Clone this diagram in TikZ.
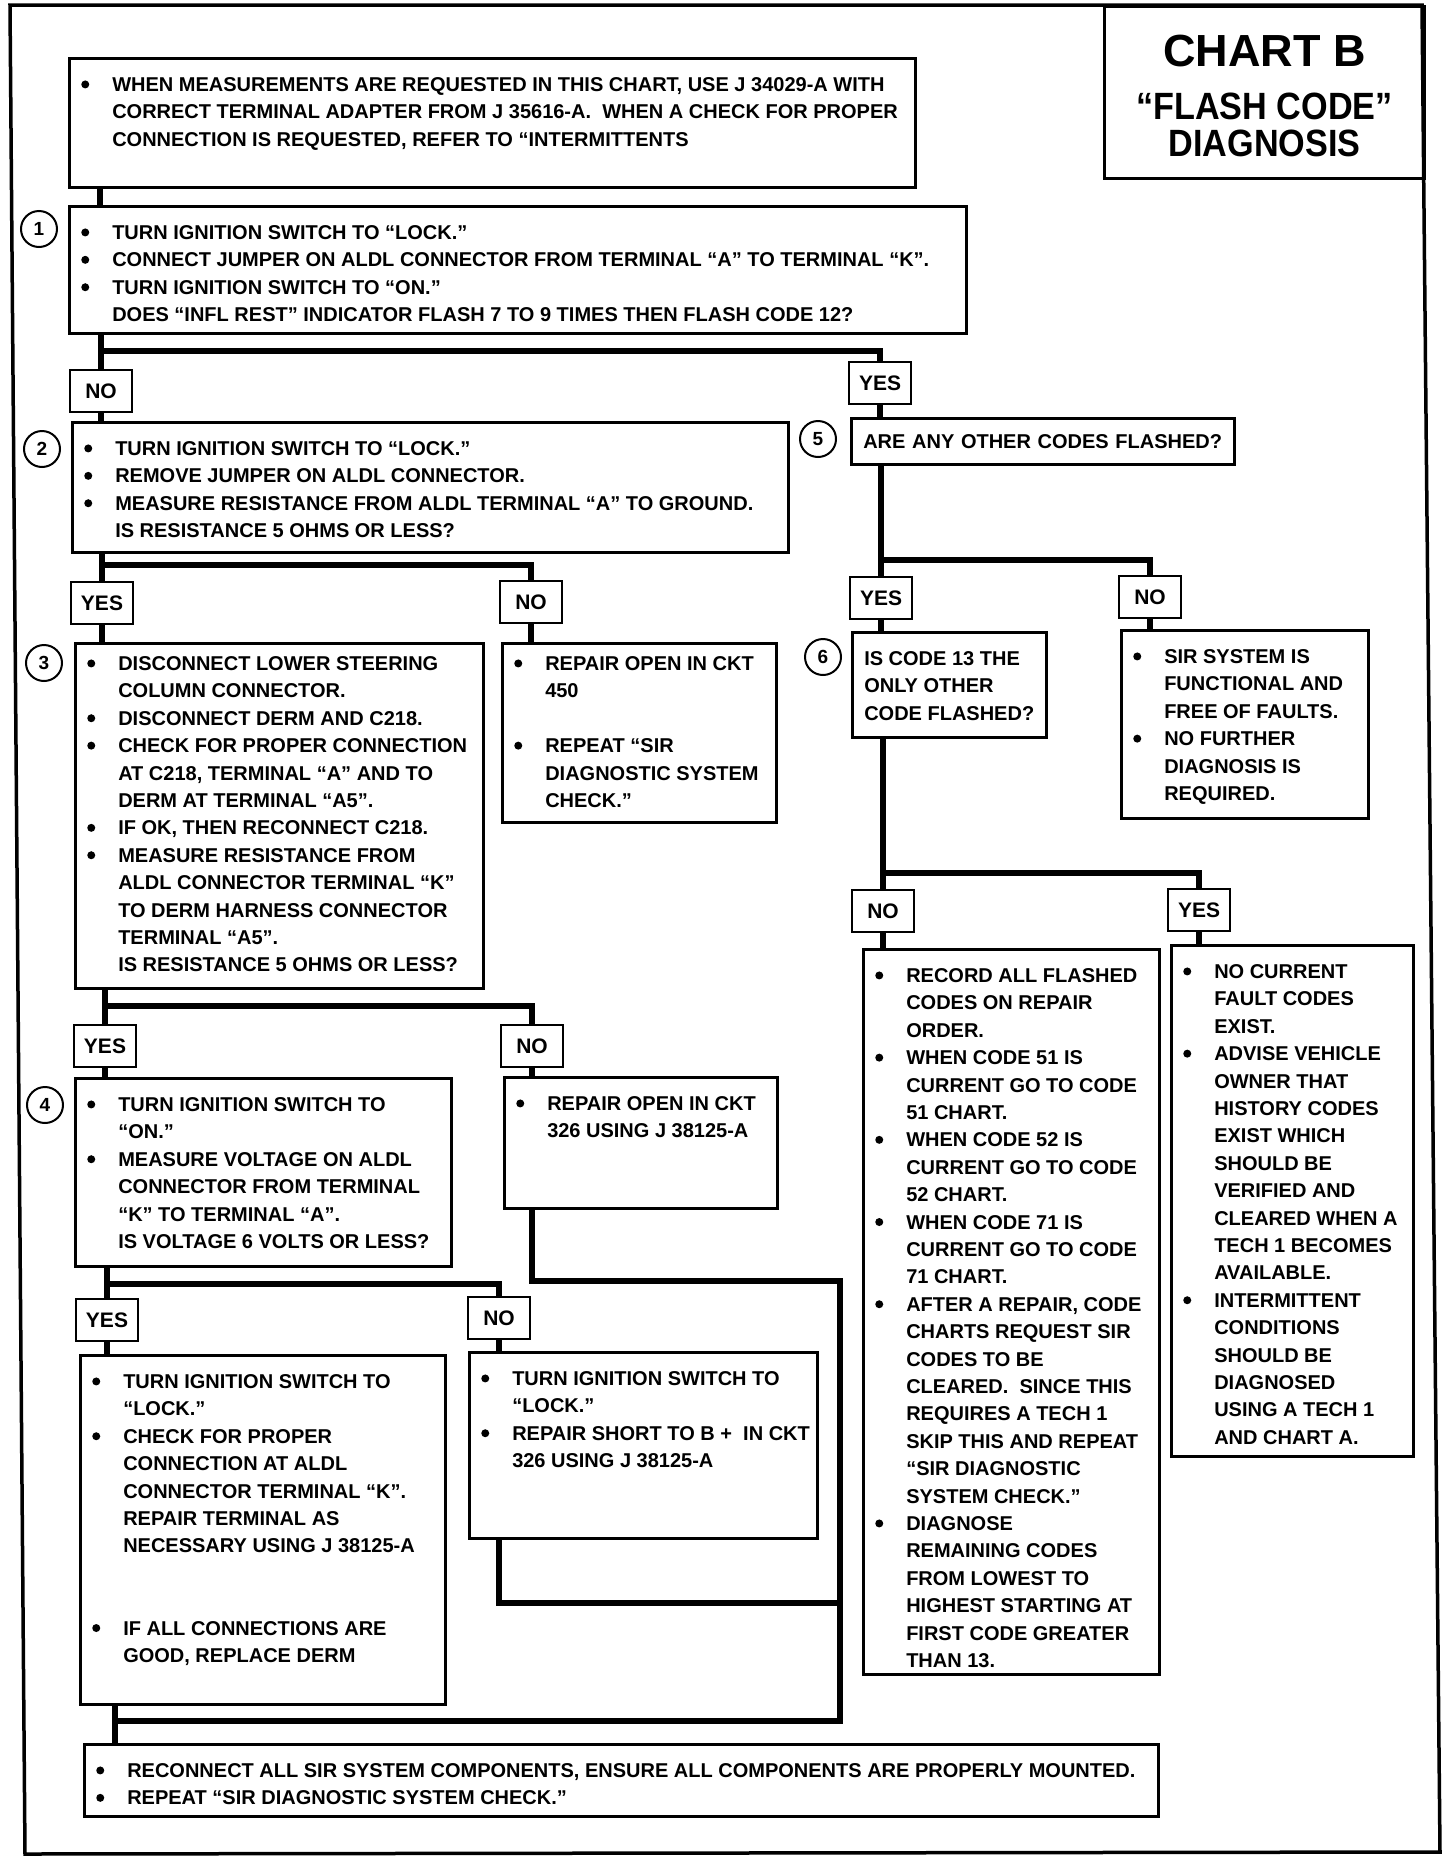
\documentclass[tikz,border=0pt]{standalone}
\usepackage{fontspec}
\setmainfont{Liberation Sans}
\newfontfamily\titlefont{Liberation Sans}[FakeStretch=0.9]
\usetikzlibrary{positioning,calc}
\newcommand{\bigdot}{\tikz[baseline=-7pt]\fill (0,0) circle (4pt);}
\newcommand{\bu}[1]{\mbox{\makebox[31pt][l]{\bigdot}#1}}
\newcommand{\ii}[1]{\mbox{\hspace*{31pt}#1}}
\newcommand{\tx}[1]{\mbox{#1}}
\newcommand{\boxtext}[4][0pt]{\parbox[c][\dimexpr#3pt-28pt\relax][t]{\dimexpr#2pt-24pt\relax}{\vspace*{#1}\strut#4}}
\tikzset{
	x=1pt, y=-1pt,
	box/.style={draw, line width=2.5pt, anchor=north west, inner xsep=12pt, inner ysep=14pt, font=\bfseries\fontsize{20}{27.4}\selectfont},
	lab/.style={draw, line width=2.5pt, minimum width=62pt, minimum height=42pt, inner sep=0pt, font=\bfseries\fontsize{21}{21}\selectfont},
	num/.style={circle, draw, line width=2pt, minimum size=36pt, inner sep=0pt, font=\bfseries\fontsize{19}{19}\selectfont},
	title/.style={draw, line width=3pt, anchor=north west, inner sep=0pt, font=\bfseries},
	conn/.style={line width=6pt, line join=miter},
	frame/.style={line width=3.5pt, line join=miter}
}

\begin{document}
\begin{tikzpicture}
    \useasboundingbox (0,0) rectangle (1456,1866);
    \draw[frame] (10,5) -- (1422,5) -- (1440,1852) -- (25,1854) -- cycle;

    \node[title] (title) at (1103,5) {\parbox[c][172pt][t]{320pt}{\centering
        \titlefont\fontsize{38}{37}\selectfont
        \rule{0pt}{60pt}{\normalfont\bfseries\fontsize{45}{37}\selectfont CHART B}\\[16pt]
        “FLASH CODE”\\
        DIAGNOSIS}};

    % left column
    \node[box] (b0) at (68,57) {\boxtext{846}{129}{%
        \bu{WHEN MEASUREMENTS ARE REQUESTED IN THIS CHART, USE J 34029-A WITH}\\
        \ii{CORRECT TERMINAL ADAPTER FROM J 35616-A.\ \ WHEN A CHECK FOR PROPER}\\
        \ii{CONNECTION IS REQUESTED, REFER TO “INTERMITTENTS}}};
    \node[box] (b1) at (68,205) {\boxtext{897}{127}{%
        \bu{TURN IGNITION SWITCH TO “LOCK.”}\\
        \bu{CONNECT JUMPER ON ALDL CONNECTOR FROM TERMINAL “A” TO TERMINAL “K”.}\\
        \bu{TURN IGNITION SWITCH TO “ON.”}\\
        \ii{DOES “INFL REST” INDICATOR FLASH 7 TO 9 TIMES THEN FLASH CODE 12?}}};
    \node[box] (b2) at (71,421) {\boxtext{716}{130}{%
        \bu{TURN IGNITION SWITCH TO “LOCK.”}\\
        \bu{REMOVE JUMPER ON ALDL CONNECTOR.}\\
        \bu{MEASURE RESISTANCE FROM ALDL TERMINAL “A” TO GROUND.}\\
        \ii{IS RESISTANCE 5 OHMS OR LESS?}}};
    \node[box] (b3) at (74,642) {\boxtext[-6pt]{408}{345}{%
        \bu{DISCONNECT LOWER STEERING}\\
        \ii{COLUMN CONNECTOR.}\\
        \bu{DISCONNECT DERM AND C218.}\\
        \bu{CHECK FOR PROPER CONNECTION}\\
        \ii{AT C218, TERMINAL “A” AND TO}\\
        \ii{DERM AT TERMINAL “A5”.}\\
        \bu{IF OK, THEN RECONNECT C218.}\\
        \bu{MEASURE RESISTANCE FROM}\\
        \ii{ALDL CONNECTOR TERMINAL “K”}\\
        \ii{TO DERM HARNESS CONNECTOR}\\
        \ii{TERMINAL “A5”.}\\
        \ii{IS RESISTANCE 5 OHMS OR LESS?}}};
    \node[box] (b450) at (501,642) {\boxtext[-6pt]{274}{179}{%
        \bu{REPAIR OPEN IN CKT}\\
        \ii{450}\\[27.4pt]
        \bu{REPEAT “SIR}\\
        \ii{DIAGNOSTIC SYSTEM}\\
        \ii{CHECK.”}}};
    \node[box] (b4) at (74,1077) {\boxtext{376}{188}{%
        \bu{TURN IGNITION SWITCH TO}\\
        \ii{“ON.”}\\
        \bu{MEASURE VOLTAGE ON ALDL}\\
        \ii{CONNECTOR FROM TERMINAL}\\
        \ii{“K” TO TERMINAL “A”.}\\
        \ii{IS VOLTAGE 6 VOLTS OR LESS?}}};
    \node[box] (b326) at (503,1076) {\boxtext{273}{131}{%
        \bu{REPAIR OPEN IN CKT}\\
        \ii{326 USING J 38125-A}}};
    \node[box] (blk) at (79,1354) {\boxtext{365}{349}{%
        \bu{TURN IGNITION SWITCH TO}\\
        \ii{“LOCK.”}\\
        \bu{CHECK FOR PROPER}\\
        \ii{CONNECTION AT ALDL}\\
        \ii{CONNECTOR TERMINAL “K”.}\\
        \ii{REPAIR TERMINAL AS}\\
        \ii{NECESSARY USING J 38125-A}\\[54.8pt]
        \bu{IF ALL CONNECTIONS ARE}\\
        \ii{GOOD, REPLACE DERM}}};
    \node[box] (bsh) at (468,1351) {\boxtext{348}{186}{%
        \bu{TURN IGNITION SWITCH TO}\\
        \ii{“LOCK.”}\\
        \bu{REPAIR SHORT TO B +\ \ IN CKT}\\
        \ii{326 USING J 38125-A}}};
    \node[box] (bfin) at (83,1743) {\boxtext{1074}{72}{%
        \bu{RECONNECT ALL SIR SYSTEM COMPONENTS, ENSURE ALL COMPONENTS ARE PROPERLY MOUNTED.}\\
        \bu{REPEAT “SIR DIAGNOSTIC SYSTEM CHECK.”}}};

    % right column
    \node[box, text width=359pt, minimum height=46pt] (b5) at (850,417) {\tx{ARE ANY OTHER CODES FLASHED?}};
    \node[box] (b6) at (851,631) {\boxtext{194}{105}{%
        \tx{IS CODE 13 THE}\\
        \tx{ONLY OTHER}\\
        \tx{CODE FLASHED?}}};
    \node[box] (bsir) at (1120,629) {\boxtext{247}{188}{%
        \bu{SIR SYSTEM IS}\\
        \ii{FUNCTIONAL AND}\\
        \ii{FREE OF FAULTS.}\\
        \bu{NO FURTHER}\\
        \ii{DIAGNOSIS IS}\\
        \ii{REQUIRED.}}};
    \node[box] (brec) at (862,948) {\boxtext{296}{725}{%
        \bu{RECORD ALL FLASHED}\\
        \ii{CODES ON REPAIR}\\
        \ii{ORDER.}\\
        \bu{WHEN CODE 51 IS}\\
        \ii{CURRENT GO TO CODE}\\
        \ii{51 CHART.}\\
        \bu{WHEN CODE 52 IS}\\
        \ii{CURRENT GO TO CODE}\\
        \ii{52 CHART.}\\
        \bu{WHEN CODE 71 IS}\\
        \ii{CURRENT GO TO CODE}\\
        \ii{71 CHART.}\\
        \bu{AFTER A REPAIR, CODE}\\
        \ii{CHARTS REQUEST SIR}\\
        \ii{CODES TO BE}\\
        \ii{CLEARED.\ \ SINCE THIS}\\
        \ii{REQUIRES A TECH 1}\\
        \ii{SKIP THIS AND REPEAT}\\
        \ii{“SIR DIAGNOSTIC}\\
        \ii{SYSTEM CHECK.”}\\
        \bu{DIAGNOSE}\\
        \ii{REMAINING CODES}\\
        \ii{FROM LOWEST TO}\\
        \ii{HIGHEST STARTING AT}\\
        \ii{FIRST CODE GREATER}\\
        \ii{THAN 13.}}};
    \node[box] (bnoc) at (1170,944) {\boxtext{242}{511}{%
        \bu{NO CURRENT}\\
        \ii{FAULT CODES}\\
        \ii{EXIST.}\\
        \bu{ADVISE VEHICLE}\\
        \ii{OWNER THAT}\\
        \ii{HISTORY CODES}\\
        \ii{EXIST WHICH}\\
        \ii{SHOULD BE}\\
        \ii{VERIFIED AND}\\
        \ii{CLEARED WHEN A}\\
        \ii{TECH 1 BECOMES}\\
        \ii{AVAILABLE.}\\
        \bu{INTERMITTENT}\\
        \ii{CONDITIONS}\\
        \ii{SHOULD BE}\\
        \ii{DIAGNOSED}\\
        \ii{USING A TECH 1}\\
        \ii{AND CHART A.}}};

    % step numbers
    \node[num] (c1) at (39,229) {1};
    \node[num] (c2) at (42,449) {2};
    \node[num] (c3) at (44,663) {3};
    \node[num] (c4) at (45,1105) {4};
    \node[num] (c5) at (818,439) {5};
    \node[num] (c6) at (823,657) {6};

    % answers
    \node[lab] (no1) at (101,391) {NO};
    \node[lab] (yes1) at (880,383) {YES};
    \node[lab] (yes2) at (102,603) {YES};
    \node[lab] (no2) at (531,602) {NO};
    \node[lab] (yes5) at (881,598) {YES};
    \node[lab] (no5) at (1150,597) {NO};
    \node[lab] (no6) at (883,911) {NO};
    \node[lab] (yes6) at (1199,910) {YES};
    \node[lab] (yes3) at (105,1046) {YES};
    \node[lab] (no3) at (532,1046) {NO};
    \node[lab] (yes4) at (107,1320) {YES};
    \node[lab] (no4) at (499,1318) {NO};

    \coordinate (s0) at (100,195);
    \coordinate (s1) at (101,351);
    \coordinate (s2) at (102,565);
    \coordinate (s5) at (881,560);
    \coordinate (s6) at (883,873);
    \coordinate (s3) at (105,1006);
    \coordinate (s4) at (107,1284);
    \coordinate (r1) at (532,1281);
    \coordinate (r2) at (840,1721);
    \coordinate (r3) at (499,1603);
    \coordinate (j) at (115,1721);

    \draw[conn] (b0.south -| s0) -- (b1.north -| s0);
    \draw[conn] (b1.south -| s1) -- (s1);
    \draw[conn] (no1.north) -- (s1) -| (yes1.north);
    \draw[conn] (no1.south) -- (b2.north -| no1);
    \draw[conn] (yes1.south) -- (b5.north -| yes1);
    \draw[conn] (b2.south -| s2) -- (s2);
    \draw[conn] (yes2.north) -- (s2) -| (no2.north);
    \draw[conn] (yes2.south) -- (b3.north -| yes2);
    \draw[conn] (no2.south) -- (b450.north -| no2);
    \draw[conn] (b5.south -| s5) -- (s5);
    \draw[conn] (yes5.north) -- (s5) -| (no5.north);
    \draw[conn] (yes5.south) -- (b6.north -| yes5);
    \draw[conn] (no5.south) -- (bsir.north -| no5);
    \draw[conn] (b6.south -| s6) -- (s6);
    \draw[conn] (no6.north) -- (s6) -| (yes6.north);
    \draw[conn] (no6.south) -- (brec.north -| no6);
    \draw[conn] (yes6.south) -- (bnoc.north -| yes6);
    \draw[conn] (b3.south -| s3) -- (s3);
    \draw[conn] (yes3.north) -- (s3) -| (no3.north);
    \draw[conn] (yes3.south) -- (b4.north -| yes3);
    \draw[conn] (no3.south) -- (b326.north -| no3);
    \draw[conn] (b4.south -| s4) -- (s4);
    \draw[conn] (yes4.north) -- (s4) -| (no4.north);
    \draw[conn] (yes4.south) -- (blk.north -| yes4);
    \draw[conn] (no4.south) -- (bsh.north -| no4);
    \draw[conn] (b326.south -| r1) -- (r1) -| (r2) -| (bfin.north -| j);
    \draw[conn] (bsh.south -| r3) -- (r3) -- (r3 -| r2);
    \draw[conn] (blk.south -| j) -- (bfin.north -| j);

\end{tikzpicture}
\end{document}
